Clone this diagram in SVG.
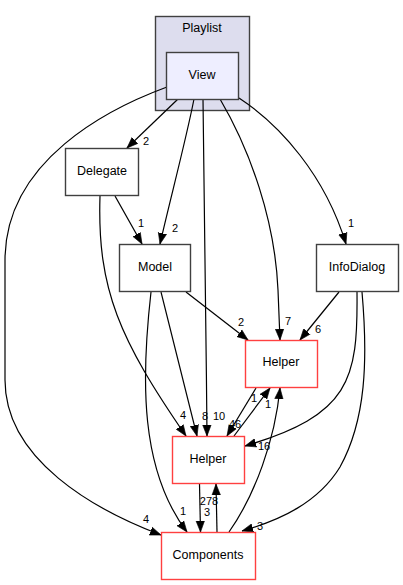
<svg xmlns="http://www.w3.org/2000/svg" width="403" height="585" viewBox="0 0 403 585">
<style>
.bg{fill:#ffffff}
.cluster{fill:#ddddee;stroke:#404040;stroke-width:1.4}
.cur{fill:#eeeeff;stroke:#404040;stroke-width:1.4}
.node{fill:#ffffff;stroke:#404040;stroke-width:1.4}
.ext{fill:#ffffff;stroke:#ff4040;stroke-width:1.4}
.lbl{font-family:"Liberation Sans",Arial,sans-serif;font-size:12.5px;fill:#000;text-anchor:middle}
.elbl{font-family:"Liberation Sans",Arial,sans-serif;font-size:11px;fill:#000;text-anchor:middle}
.edge{fill:none;stroke:#000;stroke-width:1.2;marker-end:url(#arrow)}
</style>
<defs>
<marker id="arrow" markerUnits="userSpaceOnUse" markerWidth="12" markerHeight="10" refX="11" refY="5" orient="auto">
<path d="M0,0.8 L11,5 L0,9.2 z" fill="#000" stroke="#000" stroke-width="0.6"/>
</marker>
</defs>
<rect class="bg" x="0" y="0" width="403" height="585"/>
<g id="cluster_playlist">
<rect class="cluster" x="155.5" y="16.5" width="94" height="94"/>
<text class="lbl" x="202" y="32">Playlist</text>
</g>
<g id="edges">
<path class="edge" d="M178,99 L127,148"/>
<path class="edge" d="M194,99 C186,140 170,200 160,244"/>
<path class="edge" d="M203,99 C204,200 206,320 207,436"/>
<path class="edge" d="M220,99 C250,150 275,220 278,290 L280,340"/>
<path class="edge" d="M239,98 C280,125 325,175 346,244"/>
<path class="edge" d="M167,87 C110,108 5,160 5,260 L5,380 C5,460 95,510 161,535"/>
<path class="edge" d="M115,196 L142,244"/>
<path class="edge" d="M100,196 C97,290 120,340 186,436"/>
<path class="edge" d="M186,292 L248,340"/>
<path class="edge" d="M161,292 L197,436"/>
<path class="edge" d="M151,292 C141,380 140,470 187,532"/>
<path class="edge" d="M339,292 L300,340"/>
<path class="edge" d="M357,292 C358,380 350,415 245,446"/>
<path class="edge" d="M362,292 C368,360 366,420 340,467 C318,503 280,520 242,531"/>
<path class="edge" d="M256,388 L227,436"/>
<path class="edge" d="M234,436 L270,388"/>
<path class="edge" d="M229,532 C255,495 275,440 280,388"/>
<path class="edge" d="M199.5,484 L200.5,532"/>
<path class="edge" d="M217,532 L216,484"/>
</g>
<g id="edge_labels">
<text class="elbl" x="146" y="145">2</text>
<text class="elbl" x="175" y="232">2</text>
<text class="elbl" x="219" y="420">10</text>
<text class="elbl" x="288" y="325">7</text>
<text class="elbl" x="351" y="227">1</text>
<text class="elbl" x="146" y="523">4</text>
<text class="elbl" x="141" y="227">1</text>
<text class="elbl" x="183" y="419">4</text>
<text class="elbl" x="241" y="326">2</text>
<text class="elbl" x="205" y="420">8</text>
<text class="elbl" x="183" y="515">1</text>
<text class="elbl" x="318" y="333">6</text>
<text class="elbl" x="264" y="450">16</text>
<text class="elbl" x="260" y="530">3</text>
<text class="elbl" x="235" y="428">46</text>
<text class="elbl" x="254" y="402">1</text>
<text class="elbl" x="268" y="408">1</text>
<text class="elbl" x="209" y="505">278</text>
<text class="elbl" x="207" y="516">3</text>
</g>
<g id="node_view">
<rect class="cur" x="166.5" y="52.5" width="72" height="47"/>
<text class="lbl" x="202" y="79">View</text>
</g>
<g id="node_delegate">
<rect class="node" x="65.5" y="148.5" width="73" height="47"/>
<text class="lbl" x="102" y="175">Delegate</text>
</g>
<g id="node_model">
<rect class="node" x="119.5" y="244.5" width="71" height="47"/>
<text class="lbl" x="155" y="271">Model</text>
</g>
<g id="node_infodialog">
<rect class="node" x="316.5" y="244.5" width="82" height="47"/>
<text class="lbl" x="357" y="271">InfoDialog</text>
</g>
<g id="node_helper_upper">
<rect class="ext" x="245.5" y="340.5" width="72" height="47"/>
<text class="lbl" x="281" y="366">Helper</text>
</g>
<g id="node_helper_lower">
<rect class="ext" x="172.5" y="436.5" width="72" height="47"/>
<text class="lbl" x="208" y="463">Helper</text>
</g>
<g id="node_components">
<rect class="ext" x="161.5" y="532.5" width="94" height="47"/>
<text class="lbl" x="208" y="559">Components</text>
</g>
</svg>
